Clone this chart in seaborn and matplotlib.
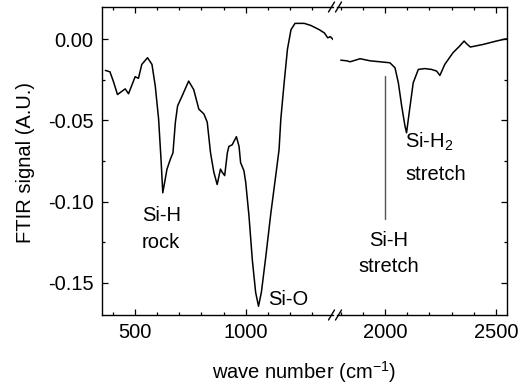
import numpy as np
import pandas as pd
import matplotlib
matplotlib.use("Agg")
import matplotlib.pyplot as plt
import seaborn as sns
from matplotlib.ticker import MultipleLocator

# FTIR spectrum, low-wavenumber window (cm^-1, A.U.)
wn_low = [365, 386, 401, 420, 455, 470, 500, 515, 530, 556, 576, 591, 606, 617,
          625, 644, 659, 671, 682, 692, 712, 742, 765, 788, 811, 826, 841, 856,
          871, 886, 894, 905, 917, 924, 939, 958, 970, 977, 992, 1000, 1015,
          1030, 1045, 1058, 1071, 1091, 1114, 1136, 1151, 1159, 1174, 1189,
          1205, 1223, 1265, 1295, 1333, 1356, 1371, 1383, 1398]
sig_low = [-0.0191, -0.0200, -0.0257, -0.0340, -0.0305, -0.0335, -0.0230,
           -0.0240, -0.0154, -0.0113, -0.0154, -0.0288, -0.0490, -0.0740,
           -0.0946, -0.0800, -0.0740, -0.0700, -0.0510, -0.0410, -0.0350,
           -0.0257, -0.0310, -0.0430, -0.0460, -0.0510, -0.0700, -0.0820,
           -0.0895, -0.0800, -0.0820, -0.0840, -0.0700, -0.0660, -0.0650,
           -0.0600, -0.0660, -0.0760, -0.0810, -0.0880, -0.1090, -0.1360,
           -0.1560, -0.1646, -0.1560, -0.1340, -0.1070, -0.0840, -0.0680,
           -0.0490, -0.0267, -0.0060, 0.0060, 0.0099, 0.0099, 0.0086, 0.0060,
           0.0040, 0.0010, 0.0017, -0.0004]

# FTIR spectrum, stretching window
wn_high = [1801, 1828, 1843, 1888, 1933, 1978, 2022, 2045, 2060, 2075, 2090,
           2097, 2109, 2127, 2150, 2179, 2209, 2232, 2247, 2269, 2306, 2336,
           2356, 2366, 2384, 2441, 2501, 2546]
sig_high = [-0.0128, -0.0132, -0.0138, -0.0119, -0.0132, -0.0138, -0.0144,
            -0.0175, -0.0267, -0.0410, -0.0535, -0.0576, -0.0450, -0.0267,
            -0.0185, -0.0180, -0.0185, -0.0195, -0.0222, -0.0154, -0.0082,
            -0.0041, -0.0010, -0.0025, -0.0047, -0.0031, -0.0010, 0.0004]

low_ticks = [500, 1000]
high_ticks = [2000, 2500]
y_ticks = [0.00, -0.05, -0.10, -0.15]

sns.set_style("ticks")
plt.rcParams["font.family"] = ["Liberation Sans", "DejaVu Sans"]
plt.rcParams["mathtext.fontset"] = "custom"
plt.rcParams["mathtext.rm"] = "Liberation Sans"
plt.rcParams["mathtext.it"] = "Liberation Sans"
plt.rcParams["mathtext.default"] = "regular"
plt.rcParams["text.color"] = "black"
plt.rcParams["axes.labelcolor"] = "black"
plt.rcParams["xtick.color"] = "black"
plt.rcParams["ytick.color"] = "black"

FS = 14.5
W, H = 521, 390
fig = plt.figure(figsize=(W / 100, H / 100), dpi=100)

def px_box(x0, x1, y_top, y_bot):
    return [x0 / W, 1 - y_bot / H, (x1 - x0) / W, (y_bot - y_top) / H]

ax1 = fig.add_axes(px_box(102, 333, 7, 315))
ax2 = fig.add_axes(px_box(337, 507, 7, 315), sharey=ax1)

low = pd.DataFrame({"wn": wn_low, "sig": sig_low})
high = pd.DataFrame({"wn": wn_high, "sig": sig_high})
sns.lineplot(data=low, x="wn", y="sig", ax=ax1, color="black", lw=1.1)
sns.lineplot(data=high, x="wn", y="sig", ax=ax2, color="black", lw=1.1)

ax1.set_xlim(350, 1395)
ax2.set_xlim(1784, 2549)
ax1.set_ylim(-0.17, 0.02)

for ax in (ax1, ax2):
    ax.set_xlabel("")
    ax.set_ylabel("")
    for s in ax.spines.values():
        s.set_linewidth(1.0)
        s.set_color("black")
    ax.xaxis.set_minor_locator(MultipleLocator(100))
    ax.yaxis.set_minor_locator(MultipleLocator(0.025))
    ax.tick_params(which="both", direction="in", top=True, labelsize=FS,
                   width=0.9, colors="black", labelcolor="black", pad=6)
    ax.tick_params(which="major", length=4)
    ax.tick_params(which="minor", length=2.3)

ax1.set_xticks(low_ticks)
ax2.set_xticks(high_ticks)
ax1.set_yticks(y_ticks)
ax1.set_yticklabels([f"{v:.2f}" for v in y_ticks])
ax1.spines["right"].set_visible(False)
ax2.spines["left"].set_visible(False)
ax1.tick_params(which="both", right=False, left=True)
ax2.tick_params(which="both", left=False, right=True, labelleft=False)

# axis-break marks on the top and bottom frame
dx, dy = 3.0, 5.0
for xc in (331.5, 338.5):
    for yc in (7, 315):
        fig.add_artist(plt.Line2D([(xc - dx) / W, (xc + dx) / W],
                                  [1 - (yc + dy) / H, 1 - (yc - dy) / H],
                                  color="black", lw=1.0))

# band labels
ax1.text(530, -0.1121, "Si-H", fontsize=FS, ha="left", va="baseline")
ax1.text(530, -0.1286, "rock", fontsize=FS, ha="left", va="baseline")
ax1.text(1102, -0.1636, "Si-O", fontsize=FS, ha="left", va="baseline")
ax2.text(2092, -0.0669, "Si-H$_2$", fontsize=FS, ha="left", va="baseline")
ax2.text(2090, -0.0869, "stretch", fontsize=FS, ha="left", va="baseline")
ax2.text(2018, -0.1276, "Si-H", fontsize=FS, ha="center", va="baseline")
ax2.text(2018, -0.1436, "stretch", fontsize=FS, ha="center", va="baseline")
ax2.plot([2000, 2000], [-0.0228, -0.111], color="#555555", lw=1.0)

fig.text(304.5 / W, 1 - 372 / H, "wave number (cm$^{-1}$)", fontsize=FS,
         ha="center", va="center")
fig.text(26 / W, 1 - 162 / H, "FTIR signal (A.U.)", fontsize=FS,
         ha="center", va="center", rotation=90)

fig.savefig("out.png", dpi=100)
